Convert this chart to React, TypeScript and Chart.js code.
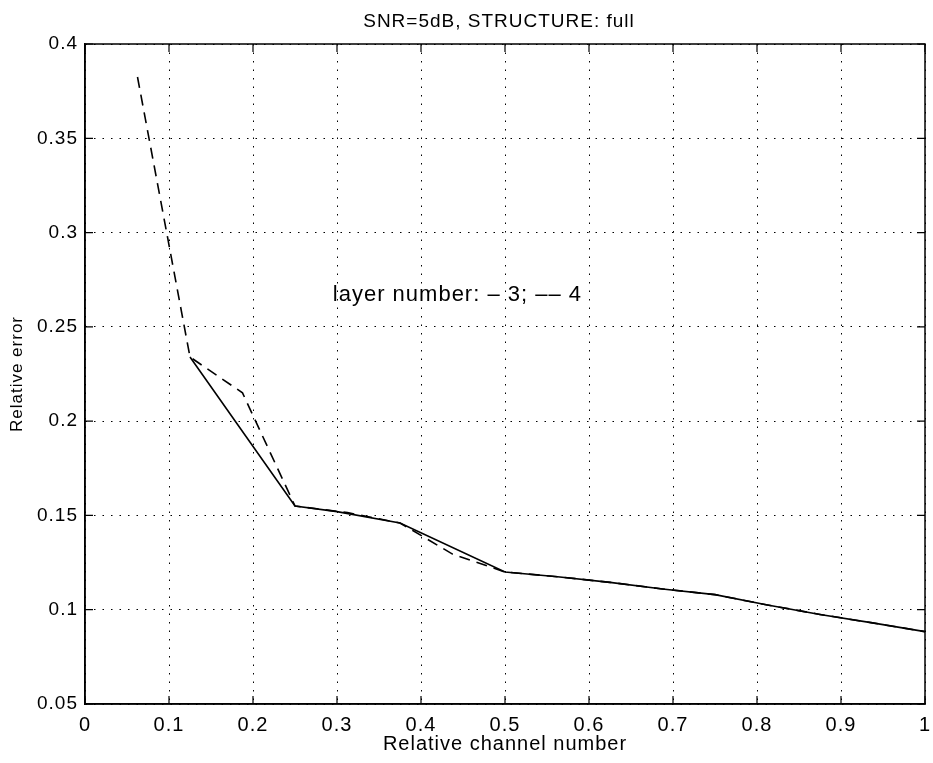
import React, { useEffect, useRef } from "react";
import { Chart, registerables } from "chart.js";

Chart.register(...registerables);

const TITLE = "SNR=5dB, STRUCTURE: full";
const X_LABEL = "Relative channel number";
const Y_LABEL = "Relative error";
const NOTE = "layer number: – 3; –– 4";
const NOTE_POS = [0.295, 0.267];

const layer3X = [0.125, 0.25, 0.3, 0.375, 0.5, 0.5625, 0.625, 0.6875, 0.75, 0.8125, 0.875, 0.9375, 1.0];
const layer3Y = [0.234, 0.155, 0.152, 0.146, 0.12, 0.1175, 0.1145, 0.111, 0.108, 0.1025, 0.0975, 0.093, 0.0884];

const layer4X = [0.0625, 0.125, 0.1875, 0.25, 0.3125, 0.375, 0.4375, 0.5, 0.5625, 0.625, 0.6875, 0.75, 0.8125, 0.875, 0.9375, 1.0];
const layer4Y = [0.3825, 0.234, 0.215, 0.155, 0.1515, 0.146, 0.1295, 0.12, 0.1175, 0.1145, 0.111, 0.108, 0.1025, 0.0975, 0.093, 0.0884];

const X_MIN = 0, X_MAX = 1, X_STEP = 0.1;
const Y_MIN = 0.05, Y_MAX = 0.4, Y_STEP = 0.05;

const FONT = "'Liberation Sans', Arial, Helvetica, sans-serif";
const SPACING = "1px";

const spacingPlugin = {
  id: "spacing",
  beforeUpdate(chart: any) { (chart.ctx as any).letterSpacing = SPACING; },
  beforeDraw(chart: any) { (chart.ctx as any).letterSpacing = SPACING; },
};

const frameAndTicks = {
  id: "frameAndTicks",
  afterDatasetsDraw(chart: any) {
    const { ctx, chartArea: a, scales } = chart;
    const xs = scales.x, ys = scales.y;
    const L = 8;
    ctx.save();
    ctx.strokeStyle = "#000";
    ctx.lineWidth = 1.5;
    ctx.setLineDash([]);
    ctx.strokeRect(a.left, a.top, a.right - a.left, a.bottom - a.top);
    ctx.lineWidth = 1.2;
    ctx.beginPath();
    xs.ticks.forEach((t: any) => {
      const px = xs.getPixelForValue(t.value);
      ctx.moveTo(px, a.bottom); ctx.lineTo(px, a.bottom - L);
      ctx.moveTo(px, a.top); ctx.lineTo(px, a.top + L);
    });
    ys.ticks.forEach((t: any) => {
      const py = ys.getPixelForValue(t.value);
      ctx.moveTo(a.left, py); ctx.lineTo(a.left + L, py);
      ctx.moveTo(a.right, py); ctx.lineTo(a.right - L, py);
    });
    ctx.stroke();
    ctx.fillStyle = "#000";
    ctx.font = `22px ${FONT}`;
    ctx.textAlign = "left";
    ctx.textBaseline = "middle";
    ctx.fillText(NOTE, xs.getPixelForValue(NOTE_POS[0]), ys.getPixelForValue(NOTE_POS[1]));
    // title centred over the plot area
    ctx.font = `19px ${FONT}`;
    ctx.textAlign = "center";
    ctx.textBaseline = "alphabetic";
    ctx.fillText(TITLE, (a.left + a.right) / 2 - 6, a.top - 17);
    ctx.restore();
  },
};

export default function App() {
  const ref = useRef<HTMLCanvasElement | null>(null);
  useEffect(() => {
    if (!ref.current) return;
    const chart = new Chart(ref.current, {
      type: "line",
      data: {
        datasets: [
          {
            label: "layer 3",
            data: layer3X.map((x, i) => ({ x, y: layer3Y[i] })),
            borderColor: "#000",
            borderWidth: 1.6,
            pointRadius: 0,
            tension: 0,
            fill: false,
          },
          {
            label: "layer 4",
            data: layer4X.map((x, i) => ({ x, y: layer4Y[i] })),
            borderColor: "#000",
            borderWidth: 1.6,
            borderDash: [11, 7],
            pointRadius: 0,
            tension: 0,
            fill: false,
          },
        ],
      },
      options: {
        responsive: false,
        animation: false,
        layout: { padding: { left: 0, right: 0, top: 44, bottom: 0 } },
        plugins: {
          legend: { display: false },
          tooltip: { enabled: false },
          title: { display: false },
        },
        scales: {
          x: {
            type: "linear",
            min: X_MIN,
            max: X_MAX,
            afterFit: (s: any) => { s.height = 59; s.paddingRight = 8; s.paddingLeft = 0; },
            ticks: {
              stepSize: X_STEP,
              color: "#000",
              padding: 9,
              maxRotation: 0,
              font: { family: FONT, size: 20 },
              callback: (v: any) => String(Math.round(Number(v) * 10) / 10),
            },
            grid: { color: "#000", lineWidth: 1, drawTicks: false },
            border: { display: true, color: "#000", width: 1.5, dash: [1.5, 7] },
            title: {
              display: true,
              text: X_LABEL,
              color: "#000",
              font: { family: FONT, size: 20 },
              padding: { top: 0, bottom: 7 },
            },
          },
          y: {
            type: "linear",
            min: Y_MIN,
            max: Y_MAX,
            afterFit: (s: any) => { s.width = 85; s.paddingTop = 0; s.paddingBottom = 0; },
            ticks: {
              stepSize: Y_STEP,
              color: "#000",
              padding: 7,
              font: { family: FONT, size: 19 },
              callback: (v: any) => String(Math.round(Number(v) * 100) / 100),
            },
            grid: { color: "#000", lineWidth: 1, drawTicks: false },
            border: { display: true, color: "#000", width: 1.5, dash: [1.5, 7] },
            title: {
              display: true,
              text: Y_LABEL,
              color: "#000",
              font: { family: FONT, size: 17 },
              padding: { top: 7, bottom: 0 },
            },
          },
        },
      },
      plugins: [spacingPlugin, frameAndTicks],
    });
    return () => chart.destroy();
  }, []);
  return (
    <div style={{ position: "fixed", left: 0, top: 0, width: 933, height: 763, background: "#fff" }}>
      <canvas ref={ref} width={933} height={763} />
    </div>
  );
}
